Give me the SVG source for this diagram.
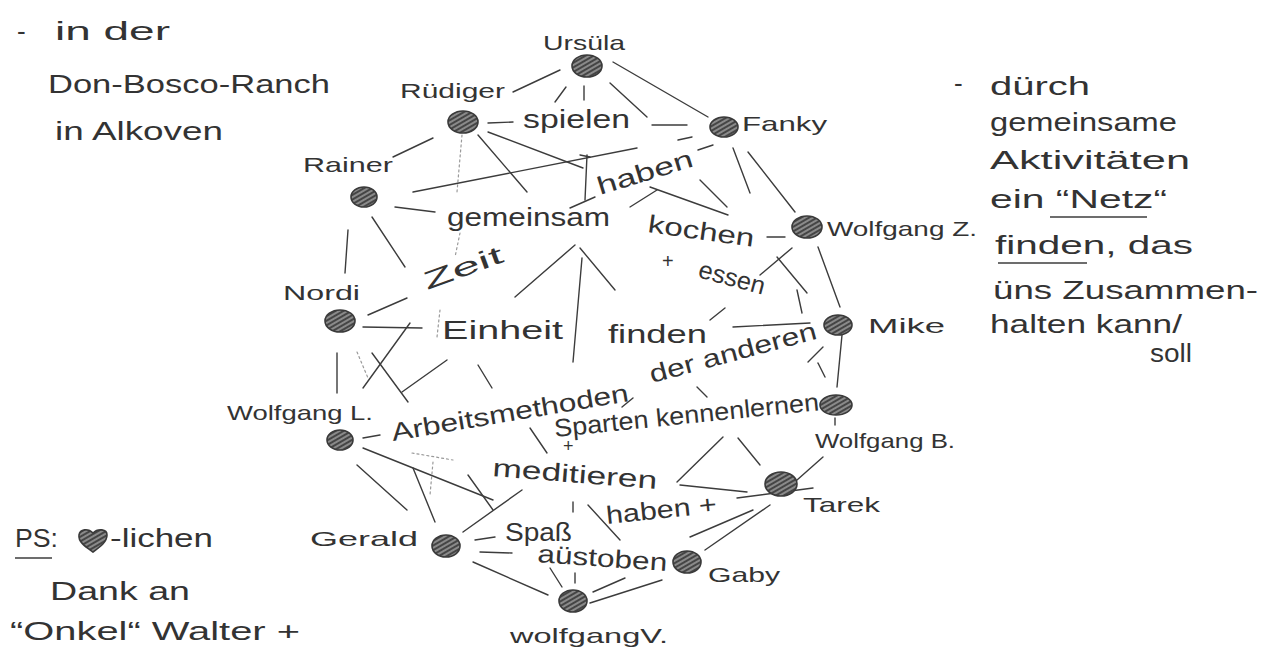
<svg xmlns="http://www.w3.org/2000/svg" width="1263" height="652" viewBox="0 0 1263 652">
<defs>
<pattern id="hatch" width="4" height="4" patternUnits="userSpaceOnUse" patternTransform="rotate(-30)">
<rect width="4" height="4" fill="#8a8a8a"/>
<line x1="0" y1="1" x2="4" y2="1" stroke="#333" stroke-width="1.6"/>
</pattern>
</defs>
<style>
text{font-family:"Liberation Sans",Arial,sans-serif;fill:#333;}
.lbl{font-size:21px;}
.w{font-size:25px;}
.note{font-size:26px;}
.n{fill:url(#hatch);stroke:#3a3a3a;stroke-width:1.6;}
.c line{stroke:#3c3c3c;stroke-width:1.4;stroke-linecap:round;}
.c line.d{stroke:#9a9a9a;stroke-width:1.2;stroke-dasharray:2 3;}
.u{stroke:#3c3c3c;stroke-width:1.6;}
</style>
<rect width="1263" height="652" fill="#fff"/>

<g id="connectors" class="c">
<line x1="513" y1="92" x2="560" y2="70"/>
<line x1="613" y1="62" x2="708" y2="117"/>
<line x1="555" y1="102" x2="566" y2="87"/>
<line x1="584" y1="86" x2="584" y2="100"/>
<line x1="610" y1="83" x2="647" y2="117"/>
<line x1="652" y1="125" x2="687" y2="125"/>
<line x1="393" y1="157" x2="433" y2="138"/>
<line x1="488" y1="123" x2="513" y2="122"/>
<line class="d" x1="462" y1="135" x2="457" y2="192"/>
<line x1="478" y1="135" x2="527" y2="192"/>
<line x1="488" y1="132" x2="583" y2="168"/>
<line x1="413" y1="192" x2="637" y2="148"/>
<line x1="678" y1="140" x2="692" y2="137"/>
<line x1="698" y1="150" x2="713" y2="145"/>
<line x1="587" y1="155" x2="585" y2="200"/>
<line x1="570" y1="208" x2="595" y2="197"/>
<line x1="580" y1="155" x2="590" y2="157"/>
<line x1="650" y1="187" x2="728" y2="215"/>
<line x1="630" y1="207" x2="657" y2="190"/>
<line x1="700" y1="180" x2="727" y2="207"/>
<line x1="733" y1="148" x2="750" y2="193"/>
<line x1="748" y1="152" x2="795" y2="212"/>
<line x1="767" y1="237" x2="785" y2="237"/>
<line x1="818" y1="247" x2="840" y2="307"/>
<line x1="792" y1="248" x2="760" y2="275"/>
<line x1="777" y1="257" x2="807" y2="293"/>
<line x1="797" y1="290" x2="802" y2="313"/>
<line x1="733" y1="327" x2="810" y2="323"/>
<line x1="710" y1="320" x2="725" y2="308"/>
<line x1="823" y1="347" x2="808" y2="362"/>
<line x1="818" y1="363" x2="825" y2="377"/>
<line x1="842" y1="335" x2="837" y2="387"/>
<line x1="835" y1="418" x2="835" y2="425"/>
<line x1="395" y1="207" x2="435" y2="212"/>
<line x1="372" y1="217" x2="405" y2="267"/>
<line x1="348" y1="230" x2="345" y2="273"/>
<line class="d" x1="460" y1="233" x2="455" y2="257"/>
<line x1="368" y1="315" x2="407" y2="298"/>
<line x1="363" y1="327" x2="422" y2="328"/>
<line class="d" x1="440" y1="310" x2="437" y2="337"/>
<line x1="575" y1="245" x2="515" y2="297"/>
<line x1="580" y1="248" x2="615" y2="290"/>
<line x1="582" y1="258" x2="573" y2="362"/>
<line x1="337" y1="353" x2="337" y2="393"/>
<line class="d" x1="357" y1="352" x2="368" y2="378"/>
<line x1="372" y1="353" x2="408" y2="402"/>
<line x1="363" y1="388" x2="410" y2="323"/>
<line x1="402" y1="392" x2="447" y2="360"/>
<line x1="478" y1="365" x2="492" y2="388"/>
<line x1="363" y1="438" x2="380" y2="435"/>
<line x1="363" y1="448" x2="493" y2="500"/>
<line class="d" x1="412" y1="453" x2="453" y2="460"/>
<line x1="357" y1="465" x2="407" y2="510"/>
<line x1="413" y1="468" x2="435" y2="522"/>
<line class="d" x1="433" y1="462" x2="430" y2="495"/>
<line x1="468" y1="475" x2="493" y2="510"/>
<line x1="463" y1="532" x2="522" y2="490"/>
<line x1="530" y1="428" x2="547" y2="453"/>
<line x1="633" y1="398" x2="622" y2="407"/>
<line x1="697" y1="387" x2="707" y2="397"/>
<line x1="723" y1="437" x2="677" y2="482"/>
<line x1="738" y1="438" x2="760" y2="465"/>
<line x1="680" y1="485" x2="747" y2="492"/>
<line x1="737" y1="498" x2="813" y2="488"/>
<line x1="797" y1="480" x2="823" y2="457"/>
<line x1="770" y1="505" x2="705" y2="550"/>
<line x1="753" y1="510" x2="690" y2="537"/>
<line x1="662" y1="580" x2="590" y2="603"/>
<line x1="625" y1="578" x2="593" y2="592"/>
<line x1="473" y1="562" x2="548" y2="595"/>
<line x1="550" y1="568" x2="562" y2="587"/>
<line x1="575" y1="573" x2="575" y2="583"/>
<line x1="475" y1="540" x2="495" y2="537"/>
<line x1="480" y1="552" x2="512" y2="553"/>
<line x1="573" y1="502" x2="573" y2="512"/>
<line x1="588" y1="505" x2="620" y2="540"/>
</g>

<g id="node-ursula"><ellipse class="n" cx="587" cy="66" rx="15" ry="11"/><text class="lbl" x="543" y="50" textLength="82" lengthAdjust="spacingAndGlyphs">Ursüla</text></g>
<g id="node-ruediger"><ellipse class="n" cx="463" cy="122" rx="15" ry="11"/><text class="lbl" x="400" y="98" textLength="105" lengthAdjust="spacingAndGlyphs">Rüdiger</text></g>
<g id="node-fanky"><ellipse class="n" cx="724" cy="127" rx="14" ry="10"/><text class="lbl" x="742" y="131" textLength="85" lengthAdjust="spacingAndGlyphs">Fanky</text></g>
<g id="node-rainer"><ellipse class="n" cx="364" cy="197" rx="13" ry="10"/><text class="lbl" x="303" y="172" textLength="90" lengthAdjust="spacingAndGlyphs">Rainer</text></g>
<g id="node-wolfgang-z"><ellipse class="n" cx="807" cy="227" rx="15" ry="11"/><text class="lbl" x="827" y="236" textLength="150" lengthAdjust="spacingAndGlyphs">Wolfgang Z.</text></g>
<g id="node-nordi"><ellipse class="n" cx="340" cy="321" rx="15" ry="11"/><text class="lbl" x="283" y="300" textLength="77" lengthAdjust="spacingAndGlyphs">Nordi</text></g>
<g id="node-mike"><ellipse class="n" cx="838" cy="325" rx="14" ry="10"/><text class="lbl" x="868" y="333" textLength="77" lengthAdjust="spacingAndGlyphs">Mike</text></g>
<g id="node-wolfgang-l"><ellipse class="n" cx="340" cy="440" rx="13" ry="10"/><text class="lbl" x="227" y="420" textLength="146" lengthAdjust="spacingAndGlyphs">Wolfgang L.</text></g>
<g id="node-wolfgang-b"><ellipse class="n" cx="836" cy="405" rx="16" ry="10"/><text class="lbl" x="815" y="448" textLength="140" lengthAdjust="spacingAndGlyphs">Wolfgang B.</text></g>
<g id="node-tarek"><ellipse class="n" cx="781" cy="484" rx="16" ry="12"/><text class="lbl" x="803" y="512" textLength="77" lengthAdjust="spacingAndGlyphs">Tarek</text></g>
<g id="node-gerald"><ellipse class="n" cx="446" cy="546" rx="14" ry="11"/><text class="lbl" x="310" y="546" textLength="108" lengthAdjust="spacingAndGlyphs">Gerald</text></g>
<g id="node-gaby"><ellipse class="n" cx="687" cy="562" rx="14" ry="11"/><text class="lbl" x="708" y="582" textLength="72" lengthAdjust="spacingAndGlyphs">Gaby</text></g>
<g id="node-wolfgang-v"><ellipse class="n" cx="573" cy="601" rx="14" ry="11"/><text class="lbl" x="510" y="643" textLength="158" lengthAdjust="spacingAndGlyphs">wolfgangV.</text></g>

<g id="activities">
<text class="w" x="523" y="128" textLength="107" lengthAdjust="spacingAndGlyphs">spielen</text>
<text class="w" x="600" y="195" transform="rotate(-17 600 195)" textLength="99" lengthAdjust="spacingAndGlyphs">haben</text>
<text class="w" x="447" y="226" textLength="163" lengthAdjust="spacingAndGlyphs">gemeinsam</text>
<text class="w" x="647" y="232" transform="rotate(8 647 232)" textLength="107" lengthAdjust="spacingAndGlyphs">kochen</text>
<text class="w" x="662" y="268" style="font-size:20px">+</text>
<text class="w" x="697" y="277" transform="rotate(15 697 277)" textLength="68" lengthAdjust="spacingAndGlyphs">essen</text>
<text class="w" x="427" y="290" transform="rotate(-20 427 290)" textLength="83" lengthAdjust="spacingAndGlyphs">Zeit</text>
<text class="w" x="442" y="339" textLength="121" lengthAdjust="spacingAndGlyphs">Einheit</text>
<text class="w" x="608" y="343" textLength="99" lengthAdjust="spacingAndGlyphs">finden</text>
<text class="w" x="652" y="383" transform="rotate(-15 652 383)" textLength="172" lengthAdjust="spacingAndGlyphs">der anderen</text>
<text class="w" x="393" y="441" transform="rotate(-9.6 393 441)" textLength="240" lengthAdjust="spacingAndGlyphs">Arbeitsmethoden</text>
<text class="w" x="555" y="437" transform="rotate(-5.8 555 437)" textLength="266" lengthAdjust="spacingAndGlyphs">Sparten kennenlernen</text>
<text class="w" x="563" y="452" style="font-size:18px">+</text>
<text class="w" x="492" y="476" transform="rotate(4.5 492 476)" textLength="165" lengthAdjust="spacingAndGlyphs">meditieren</text>
<text class="w" x="607" y="524" transform="rotate(-6 607 524)" textLength="111" lengthAdjust="spacingAndGlyphs">haben +</text>
<text class="w" x="505" y="541" textLength="67" lengthAdjust="spacingAndGlyphs">Spaß</text>
<text class="w" x="537" y="562" transform="rotate(4 537 562)" textLength="130" lengthAdjust="spacingAndGlyphs">aüstoben</text>
</g>

<g id="note-left">
<text class="note" x="17" y="40">-</text>
<text class="note" x="55" y="40" textLength="115" lengthAdjust="spacingAndGlyphs">in der</text>
<text class="note" x="48" y="93" textLength="282" lengthAdjust="spacingAndGlyphs">Don-Bosco-Ranch</text>
<text class="note" x="55" y="140" textLength="168" lengthAdjust="spacingAndGlyphs">in Alkoven</text>
</g>

<g id="note-right">
<text class="note" x="954" y="92">-</text>
<text class="note" x="990" y="95" textLength="100" lengthAdjust="spacingAndGlyphs">dürch</text>
<text class="note" x="990" y="131" textLength="187" lengthAdjust="spacingAndGlyphs">gemeinsame</text>
<text class="note" x="990" y="169" textLength="200" lengthAdjust="spacingAndGlyphs">Aktivitäten</text>
<text class="note" x="990" y="208" textLength="177" lengthAdjust="spacingAndGlyphs">ein “Netz“</text>
<line class="u" x1="1050" y1="217" x2="1147" y2="217"/>
<text class="note" x="995" y="254" textLength="198" lengthAdjust="spacingAndGlyphs">finden, das</text>
<line class="u" x1="998" y1="263" x2="1087" y2="263"/>
<text class="note" x="993" y="299" textLength="265" lengthAdjust="spacingAndGlyphs">üns Zusammen-</text>
<text class="note" x="990" y="333" textLength="192" lengthAdjust="spacingAndGlyphs">halten kann/</text>
<text class="note" x="1150" y="362" textLength="42" lengthAdjust="spacingAndGlyphs">soll</text>
</g>

<g id="note-ps">
<text class="note" x="15" y="547" textLength="43" lengthAdjust="spacingAndGlyphs">PS:</text>
<line class="u" x1="15" y1="558" x2="52" y2="558"/>
<path class="n" d="M93 552 C86 547 78 542 79 535 C80 529 88 528 93 533 C98 528 107 529 107 535 C107 542 100 547 93 552 Z"/>
<text class="note" x="110" y="547" textLength="103" lengthAdjust="spacingAndGlyphs">-lichen</text>
<text class="note" x="50" y="600" textLength="140" lengthAdjust="spacingAndGlyphs">Dank an</text>
<text class="note" x="10" y="640" textLength="290" lengthAdjust="spacingAndGlyphs">“Onkel“ Walter +</text>
</g>
</svg>
